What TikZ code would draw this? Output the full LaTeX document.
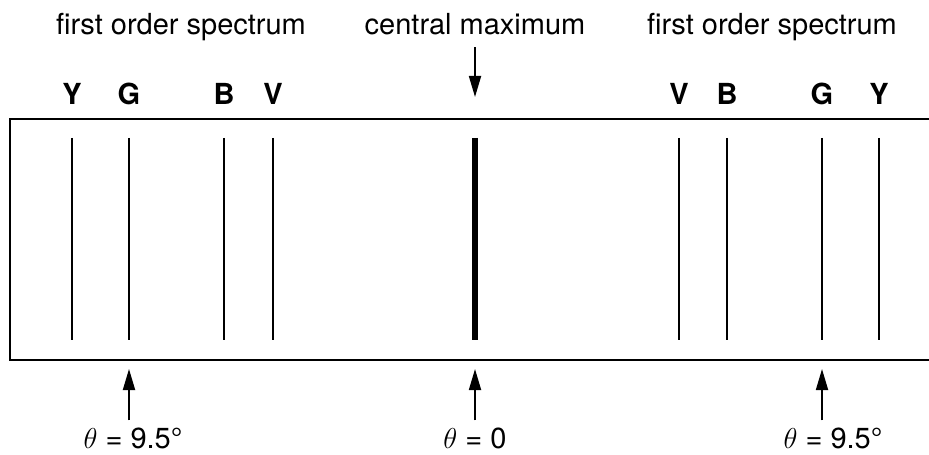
\documentclass[tikz,border=0pt]{standalone}
\usepackage{fontspec}
\setmainfont{TeX Gyre Heros}
\usepackage{tikz}
\usetikzlibrary{arrows.meta}

\begin{document}
\begin{tikzpicture}[x=0.5pt,y=-0.5pt,>={Triangle[length=10.5pt,width=6pt]},
font=\fontsize{14.5}{17}\selectfont,
colr/.style={font=\fontsize{14.5}{17}\selectfont\bfseries,anchor=base},
txt/.style={anchor=base}]
\useasboundingbox (0,0) rectangle (929,454);
\draw[line width=1.3pt](929,119)--(10,119)--(10,360)--(929,360);
% spectral lines
\foreach \x/\c in {72/Y,129/G,224/B,273/V,679/V,727/B,822/G,879/Y}{
\draw[line width=1pt](\x,138)--(\x,340);
\node[colr] at (\x,105){\c};}
\draw[line width=3pt](475,138)--(475,340);
% labels
\node[txt] (fosL) at (181,35){first order spectrum};
\node[txt] (cmax) at (475,35){central maximum};
\node[txt] (fosR) at (772,35){first order spectrum};
\node[txt] (thL) at (133,448){$\theta$ = 9.5°};
\node[txt] (thC) at (475,448){$\theta$ = 0};
\node[txt] (thR) at (833,448){$\theta$ = 9.5°};
\coordinate (cmtip) at (475,97);
\coordinate (gL) at (129,369);
\coordinate (c0) at (475,369);
\coordinate (gR) at (822,369);
\draw[->,line width=0.9pt,shorten <=2.5pt](cmax.south)--(cmtip);
\draw[->,line width=0.9pt](thL.north-|gL)--(gL);
\draw[->,line width=0.9pt](thC.north-|c0)--(c0);
\draw[->,line width=0.9pt](thR.north-|gR)--(gR);
\end{tikzpicture}
\end{document}
